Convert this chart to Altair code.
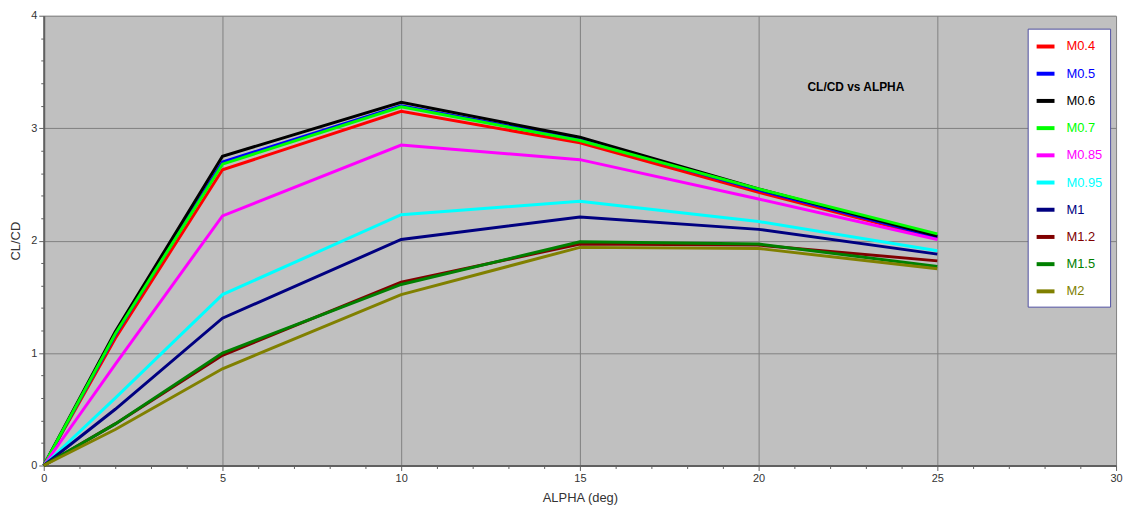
import altair as alt
import pandas as pd

alpha = [0, 2, 5, 10, 15, 20, 25]
series_names = ["M0.4", "M0.5", "M0.6", "M0.7", "M0.85", "M0.95", "M1", "M1.2", "M1.5", "M2"]
series_colors = ["#ff0000", "#0000ff", "#000000", "#00ff00", "#ff00ff",
                 "#00ffff", "#000080", "#800000", "#008000", "#808000"]

m04 = [0, 1.13, 2.63, 3.15, 2.87, 2.43, 2.02]
m05 = [0, 1.16, 2.70, 3.20, 2.90, 2.45, 2.03]
m06 = [0, 1.19, 2.75, 3.23, 2.92, 2.46, 2.04]
m07 = [0, 1.17, 2.68, 3.19, 2.89, 2.46, 2.06]
m085 = [0, 0.90, 2.22, 2.85, 2.72, 2.37, 2.01]
m095 = [0, 0.60, 1.52, 2.23, 2.35, 2.17, 1.91]
m1 = [0, 0.50, 1.31, 2.01, 2.21, 2.10, 1.88]
m12 = [0, 0.37, 0.98, 1.63, 1.97, 1.96, 1.82]
m15 = [0, 0.37, 1.00, 1.61, 1.99, 1.97, 1.77]
m2 = [0, 0.32, 0.86, 1.52, 1.94, 1.93, 1.75]

series_values = [m04, m05, m06, m07, m085, m095, m1, m12, m15, m2]

x_ticks = list(range(0, 31))
y_ticks = [round(i * 0.2, 1) for i in range(21)]

rows = []
for name, vals in zip(series_names, series_values):
    for a, v in zip(alpha, vals):
        rows.append({"alpha": a, "clcd": v, "series": name})
df = pd.DataFrame(rows)

color_expr = "'#000000'"
for name, col in reversed(list(zip(series_names, series_colors))):
    color_expr = f"datum.label === '{name}' ? '{col}' : ({color_expr})"

x_major = "datum.value % 5 === 0"
y_major = "abs(datum.value - round(datum.value)) < 0.001"

FONT = "Liberation Sans"

lines = alt.Chart(df).mark_line(strokeWidth=3).encode(
    x=alt.X(
        "alpha:Q",
        scale=alt.Scale(domain=[0, 30], nice=False),
        axis=alt.Axis(
            values=x_ticks,
            title="ALPHA (deg)",
            labelExpr=f"{x_major} ? format(datum.value, 'd') : ''",
            gridOpacity={"condition": {"test": x_major, "value": 1}, "value": 0},
            tickSize={"condition": {"test": x_major, "value": 5}, "value": 3},
            labelFlush=False,
            labelPadding=2,
            titlePadding=8,
        ),
    ),
    y=alt.Y(
        "clcd:Q",
        scale=alt.Scale(domain=[0, 4], nice=False),
        axis=alt.Axis(
            values=y_ticks,
            title="CL/CD",
            labelExpr=f"{y_major} ? format(round(datum.value), 'd') : ''",
            gridOpacity={"condition": {"test": y_major, "value": 1}, "value": 0},
            tickSize={"condition": {"test": y_major, "value": 5}, "value": 3},
            labelFlush=False,
            labelPadding=2,
            titlePadding=8,
        ),
    ),
    color=alt.Color(
        "series:N",
        scale=alt.Scale(domain=series_names, range=series_colors),
        legend=alt.Legend(
            orient="none",
            legendX=991,
            legendY=13,
            title=None,
            symbolType="stroke",
            symbolStrokeWidth=4,
            symbolSize=324,
            labelFontSize=13,
            labelFont=FONT,
            labelColor={"expr": color_expr},
            labelOffset=10,
            fillColor="white",
            strokeColor="#5050a0",
            padding=7,
            rowPadding=8.4,
        ),
    ),
)

title_df = pd.DataFrame({"t": ["CL/CD vs ALPHA"]})
title_text = alt.Chart(title_df).mark_text(
    fontWeight="bold", fontSize=12, font=FONT, color="black"
).encode(x=alt.value(818), y=alt.value(72), text="t:N")

chart = alt.layer(lines, title_text).properties(
    width=1080,
    height=453,
    autosize=alt.AutoSizeParams(type="none"),
    padding={"left": 36, "top": 6, "right": 8, "bottom": 40},
).configure_view(
    fill="#c0c0c0", stroke=None
).configure_axis(
    gridColor="#808080",
    gridWidth=1,
    domainColor="#606060",
    domainWidth=2,
    tickColor="#606060",
    labelFont=FONT,
    labelFontSize=11,
    labelColor="#333333",
    titleFont=FONT,
    titleFontSize=13,
    titleFontWeight="normal",
    titleColor="#333333",
)

chart.save("out.html", embed_options={"renderer": "svg", "actions": False})
